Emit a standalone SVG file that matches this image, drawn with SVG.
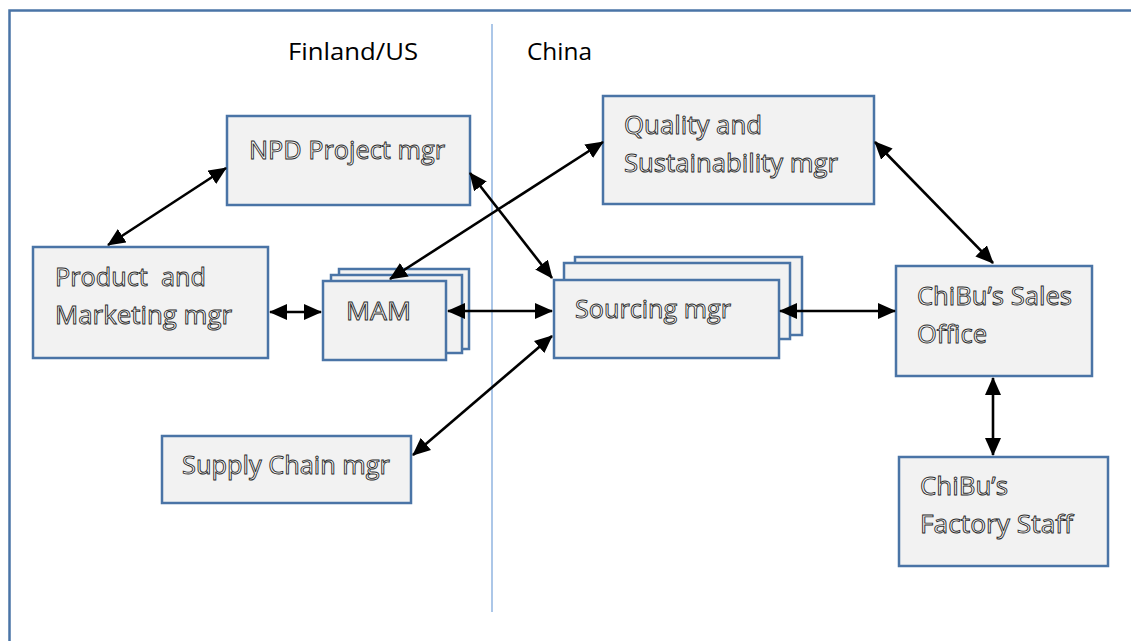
<svg xmlns="http://www.w3.org/2000/svg" width="1131" height="641" viewBox="0 0 1131 641">
<style>
.box{fill:#f2f2f2;stroke:#4a74a6;stroke-width:2.5}
.lbl{font-family:"Open Sans",Lato,sans-serif;font-size:25px;fill:#ffffff;stroke:#2a2a2a;stroke-width:0.9;white-space:pre}
.hdr{font-family:"Open Sans",Lato,sans-serif;font-size:24px;fill:#000}
.conn line{stroke:#000;stroke-width:2.6;marker-start:url(#ah);marker-end:url(#ah)}
</style>
<defs>
<marker id="ah" viewBox="0 0 18 16" refX="17" refY="8" markerWidth="18" markerHeight="16" markerUnits="userSpaceOnUse" orient="auto-start-reverse">
<path d="M0,0 L18,8 L0,16 z" fill="#000"/>
</marker>
</defs>
<rect x="0" y="0" width="1131" height="641" fill="#fff"/>
<path d="M9.5,650 L9.5,10.5 L1140,10.5" fill="none" stroke="#4a74a6" stroke-width="2.5"/>
<line x1="492" y1="24" x2="492" y2="612" stroke="#90b5e0" stroke-width="1.5"/>
<text class="hdr" x="288" y="60" textLength="130" lengthAdjust="spacingAndGlyphs">Finland/US</text>
<text class="hdr" x="527" y="60" textLength="65" lengthAdjust="spacingAndGlyphs">China</text>

<g id="npd"><rect class="box" x="227" y="116" width="243" height="89"/><text class="lbl" x="249" y="159" textLength="196" lengthAdjust="spacingAndGlyphs">NPD Project mgr</text></g>
<g id="product"><rect class="box" x="33" y="247" width="235" height="111"/><text class="lbl" x="55" y="286" textLength="151" lengthAdjust="spacingAndGlyphs" xml:space="preserve">Product  and</text><text class="lbl" x="55" y="324" textLength="177" lengthAdjust="spacingAndGlyphs">Marketing mgr</text></g>
<g id="mam"><rect class="box" x="339" y="269" width="130" height="80"/><rect class="box" x="331" y="275" width="131" height="78"/><rect class="box" x="323" y="281" width="123" height="79"/><text class="lbl" x="346" y="320" textLength="65" lengthAdjust="spacingAndGlyphs">MAM</text></g>
<g id="sourcing"><rect class="box" x="575" y="257" width="227" height="78"/><rect class="box" x="564" y="263" width="226" height="76"/><rect class="box" x="554" y="280" width="225" height="78"/><text class="lbl" x="575" y="318" textLength="156" lengthAdjust="spacingAndGlyphs">Sourcing mgr</text></g>
<g id="quality"><rect class="box" x="603" y="96" width="271" height="108"/><text class="lbl" x="624" y="134" textLength="138" lengthAdjust="spacingAndGlyphs">Quality and</text><text class="lbl" x="624" y="172" textLength="214" lengthAdjust="spacingAndGlyphs">Sustainability mgr</text></g>
<g id="sales"><rect class="box" x="896" y="266" width="196" height="110"/><text class="lbl" x="917" y="305" textLength="155" lengthAdjust="spacingAndGlyphs">ChiBu’s Sales</text><text class="lbl" x="917" y="343" textLength="70" lengthAdjust="spacingAndGlyphs">Office</text></g>
<g id="factory"><rect class="box" x="899" y="457" width="209" height="109"/><text class="lbl" x="920" y="495" textLength="88" lengthAdjust="spacingAndGlyphs">ChiBu’s</text><text class="lbl" x="920" y="533" textLength="153" lengthAdjust="spacingAndGlyphs">Factory Staff</text></g>
<g id="supply"><rect class="box" x="162" y="436" width="249" height="67"/><text class="lbl" x="182" y="474" textLength="208" lengthAdjust="spacingAndGlyphs">Supply Chain mgr</text></g>

<g class="conn">
<line x1="108" y1="245" x2="226" y2="168"/>
<line x1="270" y1="312" x2="321" y2="312"/>
<line x1="448" y1="311" x2="552" y2="311"/>
<line x1="470" y1="173" x2="552" y2="278"/>
<line x1="390" y1="279" x2="603" y2="142"/>
<line x1="413" y1="455" x2="552" y2="336"/>
<line x1="780" y1="311" x2="895" y2="311"/>
<line x1="875" y1="142" x2="993" y2="263"/>
<line x1="993" y1="378" x2="993" y2="455"/>
</g>
</svg>
